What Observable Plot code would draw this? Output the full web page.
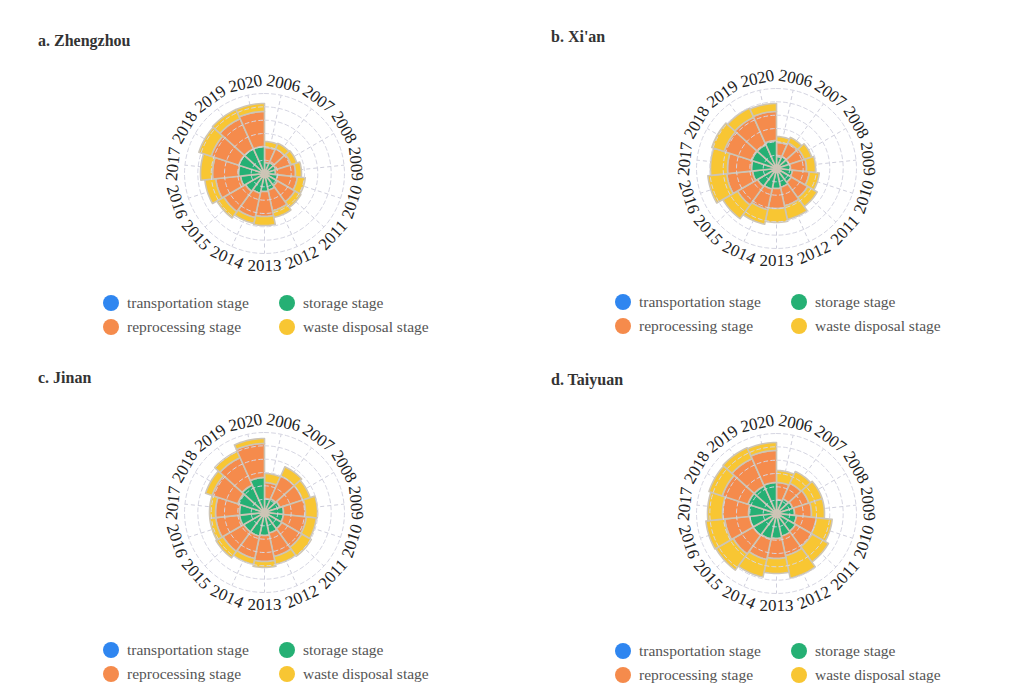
<!DOCTYPE html>
<html>
<head>
<meta charset="utf-8">
<script src="https://cdn.jsdelivr.net/npm/d3@7"></script>
<script src="https://cdn.jsdelivr.net/npm/@observablehq/plot@0.6"></script>
<style>
  body { margin: 0; background: #fff; }
  #root { position: relative; width: 1016px; height: 687px; overflow: hidden;
          font-family: "Liberation Serif", "Times New Roman", serif; }
  .title { position: absolute; font-weight: bold; font-size: 16px; line-height: 20px; color: #333; }
  .chart { position: absolute; width: 240px; height: 240px; }
  .legend { position: absolute; display: grid; grid-template-columns: 176px auto;
            font-size: 15.5px; color: #555; }
  .item { display: flex; align-items: center; height: 24px; white-space: nowrap; }
  .sw { width: 16px; height: 16px; border-radius: 50%; margin-right: 8px; flex: none; }
</style>
</head>
<body>
<div id="root"></div>
<script>
// ---------- data ----------
const years = [2006, 2007, 2008, 2009, 2010, 2011, 2012, 2013, 2014, 2015, 2016, 2017, 2018, 2019, 2020];
const stages = ["transportation stage", "storage stage", "reprocessing stage", "waste disposal stage"];
const stageColors = ["#2f86f0", "#25b074", "#f58b4c", "#f8c633"];
const ringTicks = [13.3, 26.7, 40, 53.3, 66.7, 80];
const panelTitles = ["a. Zhengzhou", "b. Xi'an", "c. Jinan", "d. Taiyuan"];

const zhengzhouTransport    = [0.3, 0.3, 0.4, 0.4, 0.4, 0.5, 0.5, 0.5, 0.6, 0.6, 0.6, 0.7, 0.7, 0.7, 0.8];
const zhengzhouStorage      = [10.7, 11.7, 11.6, 10.6, 12.6, 14.5, 16.5, 17.5, 19.4, 21.4, 23.4, 25.3, 26.3, 26.3, 26.2];
const zhengzhouReprocessing = [15, 15, 16, 20, 20, 20, 21, 25, 25, 25, 25, 26, 29, 33, 35];
const zhengzhouDisposal     = [6, 6, 6, 6, 8, 7, 7, 9, 6, 8, 11, 12, 13, 10, 8];

const xianTransport    = [0.3, 0.3, 0.4, 0.4, 0.4, 0.5, 0.5, 0.5, 0.6, 0.6, 0.6, 0.7, 0.7, 0.7, 0.8];
const xianStorage      = [11.7, 12.7, 12.6, 13.6, 15.6, 16.5, 18.5, 19.5, 20.4, 21.4, 23.4, 24.3, 25.3, 25.3, 27.2];
const xianReprocessing = [14, 15, 16, 16, 17, 19, 19, 20, 21, 23, 26, 24, 29, 30, 29];
const xianDisposal     = [6, 6, 8, 9, 10, 11, 14, 14, 15, 17, 19, 17, 13, 10, 8];

const jinanTransport    = [0.3, 0.3, 0.4, 0.4, 0.4, 0.5, 0.5, 0.5, 0.6, 0.6, 0.6, 0.7, 0.7, 0.7, 0.8];
const jinanStorage      = [13.7, 14.7, 15.6, 18.6, 18.6, 19.5, 20.5, 22.5, 23.4, 23.4, 24.4, 24.3, 27.3, 29.3, 34.2];
const jinanReprocessing = [16, 25, 24, 22, 23, 23, 24, 26, 23, 24, 24, 24, 27, 30, 34];
const jinanDisposal     = [9, 10, 8, 12, 10, 11, 8, 6, 6, 8, 6, 6, 7, 7, 5];

const taiyuanTransport    = [0.3, 0.3, 0.4, 0.4, 0.4, 0.5, 0.5, 0.5, 0.6, 0.6, 0.6, 0.7, 0.7, 0.7, 0.8];
const taiyuanStorage      = [13.7, 15.7, 16.6, 17.6, 19.6, 21.5, 22.5, 24.5, 25.4, 26.4, 26.4, 27.3, 29.3, 29.3, 30.2];
const taiyuanReprocessing = [17, 17, 17, 17, 20, 19, 20, 20, 21, 23, 25, 26, 27, 30, 32];
const taiyuanDisposal     = [12, 13, 14, 13, 16, 19, 23, 15, 18, 20, 19, 15, 14, 12, 8];

// ---------- layout (px) ----------
const layout = [
  {title: [38, 31],  chart: [144, 53],  legend: [103, 291]},
  {title: [551, 27], chart: [656, 48],  legend: [615, 290]},
  {title: [38, 368], chart: [144, 392], legend: [103, 638]},
  {title: [551, 370], chart: [656, 393], legend: [615, 639]}
];
const panelSeries = [
  [zhengzhouTransport, zhengzhouStorage, zhengzhouReprocessing, zhengzhouDisposal],
  [xianTransport, xianStorage, xianReprocessing, xianDisposal],
  [jinanTransport, jinanStorage, jinanReprocessing, jinanDisposal],
  [taiyuanTransport, taiyuanStorage, taiyuanReprocessing, taiyuanDisposal]
];

const root = document.getElementById("root");
const rad = d => d * Math.PI / 180;
const step = 360 / years.length;
const labelR = 92;
const gridR = ringTicks[ringTicks.length - 1];

function rosePlot(series) {
  const seg = 10;
  const wedges = [];
  years.forEach((yr, i) => {
    const a0 = i * step, a1 = (i + 1) * step;
    let r0 = 0;
    stages.forEach((st, s) => {
      const r1 = r0 + series[s][i];
      const id = yr + "-" + s;
      for (let k = 0; k <= seg; k++) {
        const a = rad(a0 + (a1 - a0) * k / seg);
        wedges.push({id, stage: st, x: r1 * Math.sin(a), y: r1 * Math.cos(a)});
      }
      if (r0 > 0) {
        for (let k = seg; k >= 0; k--) {
          const a = rad(a0 + (a1 - a0) * k / seg);
          wedges.push({id, stage: st, x: r0 * Math.sin(a), y: r0 * Math.cos(a)});
        }
      } else {
        wedges.push({id, stage: st, x: 0, y: 0});
      }
      r0 = r1;
    });
  });
  const rings = [];
  ringTicks.forEach(t => {
    for (let k = 0; k < 90; k++) {
      const a = rad(k * 4);
      rings.push({t, x: t * Math.sin(a), y: t * Math.cos(a)});
    }
  });
  const labelAngle = i => (i + 0.5) * step;
  return Plot.plot({
    width: 240, height: 240, margin: 0,
    x: {domain: [-120, 120], axis: null},
    y: {domain: [-120, 120], axis: null},
    color: {domain: stages, range: stageColors},
    style: {overflow: "visible", background: "transparent"},
    marks: [
      Plot.link(years, {x1: () => 0, y1: () => 0,
                        x2: (d, i) => gridR * Math.sin(rad(labelAngle(i))),
                        y2: (d, i) => gridR * Math.cos(rad(labelAngle(i))),
                        stroke: "#cfcfdc", strokeWidth: 1, strokeDasharray: "4,3"}),
      Plot.line(wedges, {x: "x", y: "y", z: "id", fill: "stage", stroke: "#cdc5b6",
                         strokeWidth: 1.6, curve: "linear-closed"}),
      Plot.line(rings, {x: "x", y: "y", z: "t", stroke: "#d6d6e2", strokeWidth: 1,
                        strokeDasharray: "4,3", curve: "linear-closed"}),
      Plot.text(years, {x: (d, i) => labelR * Math.sin(rad(labelAngle(i))),
                        y: (d, i) => labelR * Math.cos(rad(labelAngle(i))),
                        text: d => String(d),
                        rotate: (d, i) => { const a = labelAngle(i); return (a > 90 && a < 270) ? a - 180 : a; },
                        fontSize: 17, fontFamily: "Liberation Serif, Times New Roman, serif",
                        fill: "#222", textAnchor: "middle", lineAnchor: "middle"})
    ]
  });
}

panelTitles.forEach((title, p) => {
  const L = layout[p];
  const t = document.createElement("div");
  t.className = "title";
  t.style.left = L.title[0] + "px"; t.style.top = L.title[1] + "px";
  t.textContent = title;
  root.appendChild(t);

  const c = document.createElement("div");
  c.className = "chart";
  c.style.left = L.chart[0] + "px"; c.style.top = L.chart[1] + "px";
  c.appendChild(rosePlot(panelSeries[p]));
  root.appendChild(c);

  const lg = document.createElement("div");
  lg.className = "legend";
  lg.style.left = L.legend[0] + "px"; lg.style.top = L.legend[1] + "px";
  stages.forEach((st, s) => {
    const it = document.createElement("div");
    it.className = "item";
    const sw = document.createElement("span");
    sw.className = "sw"; sw.style.background = stageColors[s];
    it.appendChild(sw);
    it.appendChild(document.createTextNode(st));
    lg.appendChild(it);
  });
  root.appendChild(lg);
});
</script>
</body>
</html>
